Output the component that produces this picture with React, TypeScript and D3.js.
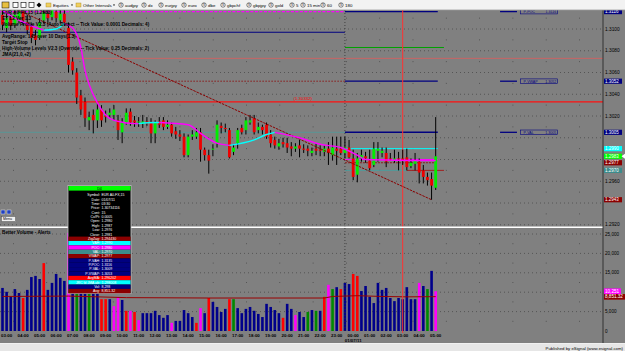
import React from "react";
import * as d3 from "d3";

// 15 minute bars, [open, high, low, close]
const candles: [number, number, number, number][] = [
  [1.3113, 1.3118, 1.3099, 1.3104], [1.3101, 1.3116, 1.3097, 1.311], [1.311, 1.3114, 1.3099, 1.3103],
  [1.3104, 1.3118, 1.3101, 1.3113], [1.3108, 1.3121, 1.3105, 1.3116], [1.3116, 1.3119, 1.3103, 1.3108],
  [1.3106, 1.3113, 1.3095, 1.3099], [1.3102, 1.3105, 1.3087, 1.3092], [1.3094, 1.3099, 1.3085, 1.309],
  [1.3092, 1.311, 1.309, 1.3106], [1.3108, 1.3118, 1.3105, 1.3115], [1.3114, 1.3118, 1.3106, 1.311],
  [1.3111, 1.3123, 1.3108, 1.3119], [1.3116, 1.312, 1.3106, 1.311], [1.3108, 1.3118, 1.3105, 1.3114],
  [1.3114, 1.3118, 1.3103, 1.3106], [1.3101, 1.3106, 1.306, 1.3067], [1.307, 1.3074, 1.3058, 1.3062],
  [1.306, 1.3064, 1.3031, 1.3037], [1.3039, 1.3044, 1.3021, 1.3026], [1.3033, 1.3037, 1.301, 1.3018],
  [1.3016, 1.3024, 1.3007, 1.3019], [1.3021, 1.3026, 1.3004, 1.3016], [1.3016, 1.3032, 1.3009, 1.3026],
  [1.3026, 1.303, 1.301, 1.3016], [1.302, 1.3025, 1.3014, 1.3019], [1.3021, 1.3027, 1.3018, 1.3023],
  [1.3021, 1.303, 1.3016, 1.3026], [1.3016, 1.3021, 1.2998, 1.3007], [1.3005, 1.3018, 1.2995, 1.3014],
  [1.3014, 1.3027, 1.3012, 1.3023], [1.3024, 1.3027, 1.3011, 1.3014], [1.3016, 1.302, 1.301, 1.3014],
  [1.3014, 1.3019, 1.301, 1.3015], [1.3013, 1.3021, 1.3009, 1.3015], [1.3015, 1.3019, 1.3011, 1.3013],
  [1.3014, 1.3018, 1.2995, 1.3004], [1.3004, 1.3016, 1.2995, 1.3014], [1.3015, 1.3019, 1.3009, 1.3012],
  [1.3016, 1.3019, 1.3007, 1.301], [1.301, 1.3016, 1.3008, 1.3012], [1.3012, 1.3014, 1.3001, 1.3004],
  [1.3006, 1.301, 1.2999, 1.3003], [1.3003, 1.3007, 1.2997, 1.3001], [1.3001, 1.3004, 1.2982, 1.2984],
  [1.2984, 1.3003, 1.2982, 1.3001], [1.3001, 1.3007, 1.2998, 1.3003], [1.3001, 1.3009, 1.2999, 1.3005],
  [1.3005, 1.3009, 1.2978, 1.2989], [1.2989, 1.2991, 1.2979, 1.2984], [1.2984, 1.2989, 1.2967, 1.2979],
  [1.2989, 1.2994, 1.2983, 1.299], [1.2995, 1.3016, 1.2991, 1.3012], [1.3011, 1.3014, 1.3004, 1.3009],
  [1.3009, 1.3013, 1.3005, 1.3008], [1.3007, 1.3009, 1.2981, 1.2982], [1.2987, 1.2994, 1.2984, 1.2991],
  [1.2995, 1.3009, 1.299, 1.3007], [1.3009, 1.3012, 1.3003, 1.3005], [1.3007, 1.3019, 1.3003, 1.3016],
  [1.3014, 1.3021, 1.3012, 1.3016], [1.3018, 1.3021, 1.3003, 1.3005], [1.3007, 1.3014, 1.3004, 1.301],
  [1.301, 1.3012, 1.3003, 1.3007], [1.3012, 1.3014, 1.2999, 1.3001], [1.3003, 1.3007, 1.2991, 1.2995],
  [1.2998, 1.3001, 1.299, 1.2993], [1.2992, 1.2999, 1.2989, 1.2995], [1.2996, 1.3, 1.2991, 1.2994],
  [1.2995, 1.3, 1.2986, 1.2991], [1.2992, 1.2996, 1.2983, 1.299], [1.299, 1.2995, 1.2987, 1.2992],
  [1.2993, 1.2998, 1.2982, 1.299], [1.299, 1.2994, 1.2986, 1.2989], [1.299, 1.2993, 1.2983, 1.2988],
  [1.2986, 1.2991, 1.2983, 1.2988], [1.299, 1.2995, 1.2984, 1.2988], [1.2989, 1.2993, 1.2983, 1.2988],
  [1.2987, 1.2993, 1.2983, 1.299], [1.299, 1.2996, 1.2975, 1.2986], [1.2984, 1.3001, 1.2979, 1.2991],
  [1.299, 1.3001, 1.2975, 1.2988], [1.299, 1.3001, 1.2984, 1.2986], [1.2986, 1.3001, 1.2981, 1.2991],
  [1.2991, 1.2998, 1.2981, 1.2982], [1.2981, 1.2989, 1.2961, 1.2964], [1.2966, 1.2986, 1.2959, 1.2981],
  [1.2981, 1.2989, 1.2978, 1.2984], [1.2983, 1.2987, 1.2977, 1.2981], [1.2979, 1.2989, 1.297, 1.2972],
  [1.2975, 1.2996, 1.2973, 1.299], [1.2988, 1.2996, 1.2978, 1.299], [1.2986, 1.2991, 1.2982, 1.2988],
  [1.2986, 1.2991, 1.2973, 1.2978], [1.2981, 1.2986, 1.2979, 1.298], [1.2979, 1.2989, 1.2977, 1.2981],
  [1.2981, 1.2987, 1.297, 1.298], [1.2981, 1.2989, 1.2975, 1.2979], [1.2982, 1.299, 1.297, 1.2973],
  [1.2974, 1.2981, 1.2972, 1.2977], [1.2976, 1.2986, 1.297, 1.2979], [1.2978, 1.2981, 1.2958, 1.2968],
  [1.297, 1.2975, 1.2958, 1.2964], [1.2964, 1.2968, 1.2956, 1.2961], [1.2962, 1.2968, 1.2943, 1.2956],
  [1.2954, 1.3019, 1.2952, 1.2983],
];

const volumes = [
  11100, 10100, 8800, 10800, 9800, 8500, 10600, 13900, 14200, 13400,
  17500, 10600, 12400, 14700, 13700, 12900, 25300, 19000, 16500, 21000,
  18000, 14500, 12000, 11000, 8200, 8200, 8200, 6400, 8800, 8000,
  5200, 5200, 4900, 2800, 4600, 4600, 4600, 5200, 4100, 3400,
  4100, 2100, 2600, 2600, 5400, 4600, 3600, 2100, 5900, 4600,
  8500, 7500, 6200, 4900, 5700, 8200, 8200, 5900, 4600, 5700,
  6200, 5200, 4400, 3600, 7000, 6200, 5400, 4600, 3400, 7000,
  5700, 4100, 4900, 3600, 4900, 5400, 5200, 5200, 8800, 11900,
  10800, 11300, 10800, 12400, 12100, 14700, 14200, 10300, 11600, 8800,
  7200, 12400, 10600, 11100, 8500, 7700, 8500, 8200, 11300, 8200,
  8200, 12400, 11600, 10800, 15500, 10251,
];

// better volume alert class per bar: b normal, r climax, m churn, g low volume
const volClass = [
  "b", "b", "b", "b", "b", "r", "b", "b", "b", "b", "r", "b", "b", "b", "b", "b", "m", "b", "g", "b",
  "b", "g", "b", "b", "r", "r", "b", "m", "m", "b", "r", "m", "r", "m", "b", "b", "b", "b", "b", "b",
  "b", "m", "b", "b", "b", "b", "b", "r", "m", "b", "r", "b", "b", "b", "b", "r", "g", "b", "b", "b",
  "b", "b", "b", "b", "b", "b", "b", "b", "r", "b", "b", "m", "b", "b", "g", "b", "g", "b", "r", "m",
  "g", "b", "r", "b", "b", "r", "r", "b", "b", "b", "b", "b", "b", "b", "b", "b", "b", "b", "b", "b",
  "b", "m", "b", "g", "b", "m",
];

const avgVolIdx = [0, 16, 30, 50, 78, 80, 86, 92, 98, 105];
const avgVolVals = [8900, 9000, 8600, 8500, 8500, 8900, 9100, 8900, 8800, 8851.32];

// JMA(21,0,+2) knots, dir of the segment that starts at the knot
const jmaIdx = [0, 3, 7, 10, 13, 15, 17, 19, 20, 21, 23, 25, 28, 32, 33, 37, 38, 45, 48, 52, 55, 61, 64, 66, 72, 77, 82, 86, 88, 105];
const jmaVals = [1.3117, 1.311, 1.3103, 1.3099, 1.31, 1.3105, 1.3101, 1.3083, 1.3062, 1.3049, 1.3032, 1.3021, 1.3015, 1.3013, 1.3013, 1.3014, 1.3014, 1.3012, 1.3004, 1.2995, 1.2993, 1.2998, 1.3003, 1.3005, 1.3, 1.2994, 1.2991, 1.2984, 1.298, 1.2979];
const jmaDir = ["dn", "dn", "dn", "up", "up", "dn", "dn", "dn", "dn", "dn", "dn", "dn", "dn", "dn", "up", "up", "dn", "dn", "dn", "dn", "up", "up", "up", "dn", "dn", "dn", "dn", "dn", "dn", "dn"];

const zigzagIdx = [0, 104];
const zigzagVals = [1.3124, 1.2943];

// volume profile / target levels
const levelKeys = ["pPOC", "pVAH", "pVWAP", "pVAL", "target", "avgHigh", "avgLow", "VAH", "POC", "VWAP", "VAL", "stop"];
const levelVals = [1.3116, 1.3097, 1.3052, 1.3005, 1.3083, 1.3073, 1.3033, 1.299, 1.298, 1.2977, 1.297, 1.297];

const priceTicks = [1.31, 1.308, 1.306, 1.304, 1.302, 1.3, 1.298, 1.296, 1.294, 1.292];
const volTicks = [0, 5000, 10000, 15000, 20000, 25000];
const hourLabels = [
  "03:00", "04:00", "05:00", "06:00", "07:00", "08:00", "09:00", "10:00", "11:00", "12:00", "13:00", "14:00",
  "15:00", "16:00", "17:00", "18:00", "19:00", "20:00", "21:00", "22:00", "23:00", "00:00", "01:00", "02:00",
  "03:00", "04:00", "05:00",
];
const dayLabel = "01/07/11";

const studyLines = [
  "EUR A0-FX,15 (1.2983)",
  "ET L2 Ver 1.3",
  "Volume Profile V2.3 (Auto Detect -- Tick Value: 0.0001 Decimals: 4)",
  "",
  "AvgRange: 145 over 10 Days(1.3)",
  "Target Stop",
  "High-Volume Levels V2.3 (Override -- Tick Value: 0.25 Decimals: 2)",
  "JMA(21,0,+2)",
];

const tipLabels = ["Symbol", "Date", "Time", "Price", "Cont", "Cx/Pt", "Open", "High", "Low", "Close",
  "ZigZag", "VAH", "POC", "VAL", "VWAP", "P-VAH", "P.POC", "P-VAL", "P-VWAP", "AvgMA", "JRC ld JMA.ab", "Vol", "Avg"];
const tipValues = ["EUR A0-FX,15", "01/07/11", "03:30", "1.30734116", "15", "0.0005", "1.2980", "1.2987", "1.2976", "1.2981",
  "1.294430", "1.2990", "1.2980", "1.2970", "1.2977", "1.3135", "1.3116", "1.3009", "1.3053", "1.296202", "1.298008", "8,298", "8,851.32"];

const toolbarItems = ["audjpy", "dx", "eurjpy", "euro", "dbe", "gbpchf", "gbpjpy", "gold", "5", "15 min", "60", "180"];

const W = 625;
const H = 351;
const AXIS_X = 603;

const volColor: Record<string, string> = { b: "#00008b", r: "#ff0000", m: "#ff00ff", g: "#008a00" };
const tipColor: Record<string, string> = {
  ZigZag: "#8b0000", VAH: "#00ffff", POC: "#ff00ff", VAL: "#3c8c8c", VWAP: "#8b0000",
  "P-VAH": "#000080", "P.POC": "#000080", "P-VAL": "#000080", "P-VWAP": "#000080",
  AvgMA: "#ff0000", "JRC ld JMA.ab": "#00ffff", Vol: "#000080", Avg: "#8b0000",
};

export default function App() {
  const x = d3.scaleLinear().domain([0, candles.length - 1]).range([2.5, 435.7]);
  const y = d3.scaleLinear().domain([1.292, 1.31]).range([224.75, 29]);
  const yv = d3.scaleLinear().domain([0, 25000]).range([331, 234]);
  const lv = (k: string) => levelVals[levelKeys.indexOf(k)];

  const sessionIdx = 83;
  const markerIdx = 97;
  const lastIdx = candles.length - 1;

  // level segments: key, from bar, to bar, colour, dash, width
  const segs: [string, number, number, string, string, number][] = [
    ["pPOC", -1, sessionIdx, "#ff00ff", "3,1.5", 1.3],
    ["pPOC", sessionIdx, lastIdx + 0.5, "#000080", "", 1.3],
    ["pVAH", -1, sessionIdx, "#000080", "", 1],
    ["pVWAP", -1, sessionIdx, "#8b1a1a", "1.5,1.5", 1],
    ["pVWAP", sessionIdx, lastIdx + 0.5, "#000080", "", 1.3],
    ["pVAL", -1, sessionIdx, "#4f9a9a", "", 0.8],
    ["pVAL", sessionIdx, lastIdx + 0.5, "#000080", "", 1.6],
    ["target", sessionIdx, lastIdx + 2, "#00a000", "", 1],
    ["avgHigh", -1, 150, "#c86464", "", 1],
    ["avgLow", -1, 150, "#ff1010", "", 1.2],
    ["VAH", sessionIdx, lastIdx + 0.5, "#00ffff", "", 1],
    ["POC", sessionIdx, lastIdx + 0.5, "#ff00ff", "", 1],
    ["VWAP", sessionIdx, lastIdx + 0.5, "#8b1a1a", "2,1", 1],
    ["VAL", sessionIdx, markerIdx + 1, "#4f9a9a", "", 1],
    ["stop", markerIdx + 1, lastIdx + 2, "#a02020", "", 1],
  ];

  const sparsePrice = priceTicks.map((t) => t + 0.001);
  const sparseVol = volTicks.slice(0, -1).map((t) => t + 2500);

  // JMA split into coloured runs
  const jmaRuns: { dir: string; pts: [number, number][] }[] = [];
  jmaIdx.forEach((idx, k) => {
    if (k === jmaIdx.length - 1) return;
    const d = jmaDir[k];
    const last = jmaRuns[jmaRuns.length - 1];
    if (!last || last.dir !== d) jmaRuns.push({ dir: d, pts: [[idx, jmaVals[k]]] });
    jmaRuns[jmaRuns.length - 1].pts.push([jmaIdx[k + 1], jmaVals[k + 1]]);
  });
  const jmaLine = d3
    .line<[number, number]>()
    .x((d) => x(d[0]))
    .y((d) => y(d[1]))
    .curve(d3.curveMonotoneX);

  const zigzagLine = d3
    .line<number>()
    .x((_, i) => x(zigzagIdx[i]))
    .y((d) => y(d));

  const avgLine = d3
    .line<number>()
    .x((_, i) => x(avgVolIdx[i]))
    .y((d) => yv(d));

  const priceFmt = d3.format(".4f");
  const volFmt = d3.format(",");

  const lastClose = candles[lastIdx][3];
  const priceBadges: [number, string, string][] = [
    [lv("pPOC"), "#000080", "#fff"],
    [lv("pVWAP"), "#000080", "#fff"],
    [lv("pVAL"), "#000080", "#fff"],
    [lv("VAH"), "#00ffff", "#fff"],
    [lastClose, "#00ff00", "#fff"],
    [lv("VWAP"), "#8b0000", "#fff"],
    [lv("VAL"), "#3c8c8c", "#fff"],
    [zigzagVals[1], "#8b0000", "#fff"],
  ];
  // tick labels hidden behind a badge
  const freeTicks = priceTicks.filter((t) => priceBadges.every(([v]) => Math.abs(y(v) - y(t)) > 6));
  const lastVol = volumes[lastIdx];
  const lastAvg = avgVolVals[avgVolVals.length - 1];
  const freeVolTicks = volTicks.filter((t) => Math.abs(yv(t) - yv(lastVol)) > 6 && Math.abs(yv(t) - yv(lastAvg)) > 6);

  const font = "Liberation Sans, Arial, sans-serif";

  return (
    <svg
      width={W}
      height={H}
      style={{ position: "absolute", left: 0, top: 0 }}
      fontFamily={font}
    >
      <defs>
        <clipPath id="pclip">
          <rect x={0} y={10} width={AXIS_X} height={217} />
        </clipPath>
        <clipPath id="vclip">
          <rect x={0} y={228} width={AXIS_X} height={104} />
        </clipPath>
      </defs>
      <rect width={W} height={H} fill="#808080" />

      {/* price panel */}
      <g clipPath="url(#pclip)">
        {priceTicks.map((t) => (
          <line key={"g" + t} x1={0} x2={AXIS_X} y1={y(t)} y2={y(t)} stroke="#3c3c3c" strokeWidth={0.8} strokeDasharray="0.8,3.2" />
        ))}
        {sparsePrice.map((t) => (
          <line key={"s" + t} x1={0} x2={AXIS_X} y1={y(t)} y2={y(t)} stroke="#3c3c3c" strokeWidth={0.8} strokeDasharray="0.8,32.5" strokeDashoffset={-13} />
        ))}
        {segs.map(([k, a, b, col, dash, w], i) => (
          <line
            key={"l" + i}
            x1={x(a)}
            x2={x(b)}
            y1={y(lv(k))}
            y2={y(lv(k))}
            stroke={col}
            strokeWidth={w}
            strokeDasharray={dash || undefined}
          />
        ))}
        {["pPOC", "pVWAP", "pVAL"].map((k) => (
          <g key={"tag" + k}>
            <line x1={x(120.6)} x2={x(124.7)} y1={y(lv(k))} y2={y(lv(k))} stroke="#000080" strokeWidth={1.3} />
            <rect x={x(125.6)} y={y(lv(k)) - 2.3} width={37} height={4.6} fill="none" stroke="#000080" strokeWidth={0.6} />
            <text x={x(126.3)} y={y(lv(k)) + 1.3} fontSize={3.6} fill="#000080">
              {k.replace("p", "P-")}
            </text>
            <text x={x(134.2)} y={y(lv(k)) + 1.3} fontSize={3.6} fill="#000080" textAnchor="end">
              {priceFmt(lv(k))}
            </text>
          </g>
        ))}
        <text x={312} y={y(lv("avgLow")) - 1.5} fontSize={4.3} fill="#ff0000" textAnchor="end">
          ({lv("avgLow").toFixed(5).replace(/0$/, "2")})
        </text>

        <line x1={x(sessionIdx)} x2={x(sessionIdx)} y1={10} y2={227} stroke="#303030" strokeWidth={0.8} strokeDasharray="1,2" />
        <line x1={x(markerIdx)} x2={x(markerIdx)} y1={10} y2={227} stroke="#ff3030" strokeWidth={1} />

        {candles.map(([o, h, l, c], i) => {
          const cx = x(i);
          const yt = y(Math.max(o, c));
          const yb = y(Math.min(o, c));
          return (
            <g key={"c" + i}>
              <line x1={cx} x2={cx} y1={y(h)} y2={y(l)} stroke="#000" strokeWidth={1} />
              <rect x={cx - 1.4} y={yt} width={2.8} height={Math.max(1, yb - yt)} fill={c >= o ? "#00ee00" : "#ee0000"} />
            </g>
          );
        })}

        <path d={zigzagLine(zigzagVals) || ""} fill="none" stroke="#8b0000" strokeWidth={1} strokeDasharray="2.5,1" />
        {jmaRuns.map((r, i) => (
          <path key={"j" + i} d={jmaLine(r.pts) || ""} fill="none" stroke={r.dir === "up" ? "#00ffff" : "#ff00ff"} strokeWidth={1.4} />
        ))}

        {studyLines.map((s, i) => (
          <text key={"st" + i} x={2} y={14 + i * 6} fontSize={4.7} fontWeight="bold" fill="#000">
            {s}
          </text>
        ))}
      </g>

      {/* panel separator */}
      <line x1={0} x2={AXIS_X} y1={227.2} y2={227.2} stroke="#ffffff" strokeWidth={1.4} />

      {/* volume panel */}
      <g clipPath="url(#vclip)">
        {volTicks.slice(1).map((t) => (
          <line key={"vg" + t} x1={0} x2={AXIS_X} y1={yv(t)} y2={yv(t)} stroke="#3c3c3c" strokeWidth={0.8} strokeDasharray="0.8,3.2" />
        ))}
        {sparseVol.map((t) => (
          <line key={"vs" + t} x1={0} x2={AXIS_X} y1={yv(t)} y2={yv(t)} stroke="#3c3c3c" strokeWidth={0.8} strokeDasharray="0.8,32.5" strokeDashoffset={-13} />
        ))}
        {volumes.map((v, i) => (
          <rect key={"v" + i} x={x(i) - 1.3} y={yv(v)} width={2.6} height={yv(0) - yv(v)} fill={volColor[volClass[i]]} />
        ))}
        <path d={avgLine(avgVolVals) || ""} fill="none" stroke="#990000" strokeWidth={1} />
        <text x={2} y={234} fontSize={4.7} fontWeight="bold" fill="#000">
          Better Volume - Alerts
        </text>
      </g>
      <line x1={x(sessionIdx)} x2={x(sessionIdx)} y1={228} y2={333} stroke="#303030" strokeWidth={0.8} strokeDasharray="1,2" />
      <line x1={x(markerIdx)} x2={x(markerIdx)} y1={228} y2={333} stroke="#ff3030" strokeWidth={1} />

      {/* time axis */}
      {hourLabels.map((s, k) => (
        <text key={"h" + k} x={x(1 + k * 4)} y={337} fontSize={4.4} fontWeight="bold" fill="#000" textAnchor="middle">
          {s}
        </text>
      ))}
      <text x={x(85)} y={342} fontSize={4.4} fontWeight="bold" fill="#000" textAnchor="middle">
        {dayLabel}
      </text>

      {/* right axis */}
      <line x1={AXIS_X} x2={AXIS_X} y1={10} y2={343} stroke="#202020" strokeWidth={0.8} />
      {freeTicks.map((t) => (
        <text key={"pt" + t} x={605} y={y(t) + 1.7} fontSize={4.8} fill="#000">
          {priceFmt(t)}
        </text>
      ))}
      {priceBadges.map(([v, bg, fg], i) => (
        <g key={"pb" + i}>
          <rect x={604} y={y(v) - 2.6} width={18} height={5.2} fill={bg} />
          <text x={605} y={y(v) + 1.6} fontSize={4.5} fill={fg}>
            {priceFmt(v)}
          </text>
        </g>
      ))}
      <path d={`M625,${y(lastClose) - 2.5}L621.5,${y(lastClose)}L625,${y(lastClose) + 2.5}Z`} fill="#fff" />
      {freeVolTicks.map((t) => (
        <text key={"vt" + t} x={605} y={yv(t) + 1.6} fontSize={4.6} fill="#000">
          {volFmt(t)}
        </text>
      ))}
      <rect x={604} y={yv(lastVol) - 2.8} width={17} height={5.6} fill="#ff00ff" />
      <text x={605} y={yv(lastVol) + 1.6} fontSize={4.6} fill="#fff">
        {volFmt(lastVol)}
      </text>
      <rect x={604} y={yv(lastAvg) - 2.6} width={21} height={5.6} fill="#8b0000" />
      <text x={605} y={yv(lastAvg) + 1.8} fontSize={4.6} fill="#fff">
        {d3.format(",.2f")(lastAvg)}
      </text>

      {/* left widgets */}
      <rect x={1} y={210} width={4} height={4} fill="#2040c0" stroke="#fff" strokeWidth={0.4} />
      <rect x={7} y={210} width={4} height={4} fill="#2040c0" stroke="#fff" strokeWidth={0.4} />
      <rect x={1.5} y={216.5} width={14} height={5} fill="#f0f0f0" stroke="#404040" strokeWidth={0.4} />
      <text x={3} y={220.3} fontSize={3.6} fill="#000">
        Menu
      </text>

      {/* data window */}
      <g>
        <rect x={68} y={185.5} width={63} height={108} fill="#000" stroke="#c0c0c0" strokeWidth={0.8} />
        <rect x={68.5} y={186} width={62} height={4.6} fill="#00ff00" />
        <text x={99.5} y={189.6} fontSize={3.6} fill="#000" textAnchor="middle">
          D4
        </text>
        {tipLabels.map((lab, i) => {
          const ry = 193 + i * 4.36;
          const bg = tipColor[lab];
          return (
            <g key={"tr" + i}>
              {bg && <rect x={68.5} y={ry} width={62} height={4.36} fill={bg} />}
              <text x={100} y={ry + 3.3} fontSize={3.5} fill="#fff" textAnchor="end">
                {lab}:
              </text>
              <text x={101.5} y={ry + 3.3} fontSize={3.5} fill="#fff">
                {tipValues[i]}
              </text>
            </g>
          );
        })}
      </g>

      {/* toolbar */}
      <rect x={0} y={0} width={W} height={10} fill="#f2f2f2" />
      <line x1={0} x2={W} y1={10} y2={10} stroke="#9a9a9a" strokeWidth={0.8} />
      <rect x={2} y={2} width={7} height={6} fill="#e8c040" stroke="#000" strokeWidth={0.5} />
      {[13, 21, 29].map((bx) => (
        <rect key={"ic" + bx} x={bx} y={2.5} width={5} height={5} fill="#fff" stroke="#000" strokeWidth={0.6} />
      ))}
      <path d="M39,2.5L41.5,5L39,7.5L36.5,5Z" fill="#000" />
      <rect x={46} y={3} width={5} height={4} fill="#f0d060" stroke="#a08020" strokeWidth={0.4} />
      <text x={53} y={6.6} fontSize={4.4} fill="#000">Equities</text>
      <path d="M71,4.5L73,4.5L72,6Z" fill="#000" />
      <rect x={76} y={3} width={5} height={4} fill="#f0d060" stroke="#a08020" strokeWidth={0.4} />
      <text x={83} y={6.6} fontSize={4.4} fill="#000">Other Intervals</text>
      <path d="M113,4.5L115,4.5L114,6Z" fill="#000" />
      {toolbarItems.map((s, k) => {
        const bx = [121, 144, 161, 184, 204, 223, 249, 271, 292, 303, 323, 341][k];
        return (
          <g key={"tb" + k}>
            <circle cx={bx} cy={5} r={2.2} fill="#fff" stroke="#000" strokeWidth={0.5} />
            <text x={bx} y={6.3} fontSize={3} fill="#000" textAnchor="middle">S</text>
            <text x={bx + 4} y={6.6} fontSize={4.4} fill="#000">{s}</text>
          </g>
        );
      })}

      {/* status strip */}
      <rect x={0} y={343.5} width={W} height={8} fill="#e6e6e6" />
      <line x1={0} x2={W} y1={343.5} y2={343.5} stroke="#ffffff" strokeWidth={0.8} />
      <text x={623} y={349.5} fontSize={4.3} fill="#000" textAnchor="end">
        Published by eSignal (www.esignal.com)
      </text>
    </svg>
  );
}
